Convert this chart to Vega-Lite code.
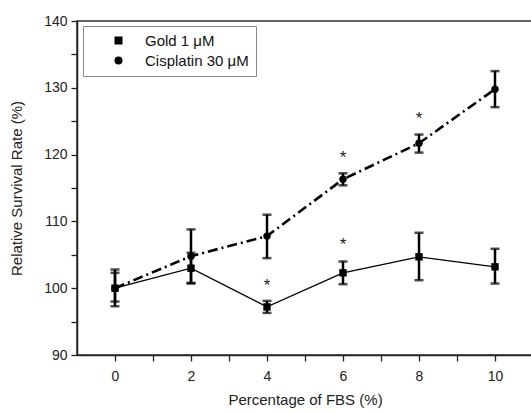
{
  "$schema": "https://vega.github.io/schema/vega-lite/v6.json",
  "width": 456,
  "height": 334,
  "autosize": "none",
  "padding": {"left": 77, "top": 21, "right": 0, "bottom": 57},
  "background": "white",
  "config": {
    "font": "Liberation Sans",
    "view": {"stroke": "#333", "strokeWidth": 1.5},
    "axis": {
      "grid": false,
      "domainColor": "#222",
      "domainWidth": 1.5,
      "tickColor": "#222",
      "tickWidth": 1.3,
      "labelColor": "#222",
      "titleColor": "#222",
      "labelFont": "Liberation Sans",
      "titleFont": "Liberation Sans",
      "labelFontSize": 14,
      "titleFontSize": 15,
      "titleFontWeight": "normal"
    }
  },
  "datasets": {
    "main": [
      {"series": "Gold 1 μM", "fbs": 0, "mean": 100.0, "lo": 97.3, "hi": 102.8},
      {"series": "Gold 1 μM", "fbs": 2, "mean": 103.0, "lo": 100.7, "hi": 105.3},
      {"series": "Gold 1 μM", "fbs": 4, "mean": 97.2, "lo": 96.3, "hi": 98.1},
      {"series": "Gold 1 μM", "fbs": 6, "mean": 102.3, "lo": 100.6, "hi": 104.0},
      {"series": "Gold 1 μM", "fbs": 8, "mean": 104.7, "lo": 101.2, "hi": 108.3},
      {"series": "Gold 1 μM", "fbs": 10, "mean": 103.2, "lo": 100.7, "hi": 105.9},
      {"series": "Cisplatin 30 μM", "fbs": 0, "mean": 100.0, "lo": 98.0, "hi": 102.3},
      {"series": "Cisplatin 30 μM", "fbs": 2, "mean": 104.8, "lo": 100.8, "hi": 108.8},
      {"series": "Cisplatin 30 μM", "fbs": 4, "mean": 107.8, "lo": 104.5, "hi": 111.0},
      {"series": "Cisplatin 30 μM", "fbs": 6, "mean": 116.3, "lo": 115.4, "hi": 117.2},
      {"series": "Cisplatin 30 μM", "fbs": 8, "mean": 121.7, "lo": 120.3, "hi": 123.0},
      {"series": "Cisplatin 30 μM", "fbs": 10, "mean": 129.8, "lo": 127.1, "hi": 132.5}
    ],
    "stars": [
      {"fbs": 4, "y": 101.0},
      {"fbs": 6, "y": 107.0},
      {"fbs": 6, "y": 120.1},
      {"fbs": 8, "y": 126.0}
    ]
  },
  "data": {"name": "main"},
  "encoding": {
    "x": {
      "field": "fbs", "type": "quantitative",
      "scale": {"domain": [-1, 11], "nice": false, "zero": false},
      "axis": {
        "title": "Percentage of FBS (%)",
        "values": [0, 1, 2, 3, 4, 5, 6, 7, 8, 9, 10],
        "labelExpr": "datum.value % 2 === 0 ? datum.label : ''",
        "tickSize": 6,
        "labelPadding": 8,
        "titlePadding": 9
      }
    },
    "y": {
      "field": "mean", "type": "quantitative",
      "scale": {"domain": [90, 140], "nice": false, "zero": false},
      "title": "Relative Survival Rate (%)",
      "axis": {
        "title": "Relative Survival Rate (%)",
        "values": [90, 95, 100, 105, 110, 115, 120, 125, 130, 135, 140],
        "labelExpr": "datum.value % 10 === 0 ? datum.label : ''",
        "tickSize": 6,
        "labelPadding": 4,
        "titlePadding": 19
      }
    }
  },
  "layer": [
    {
      "transform": [{"filter": "datum.series === 'Gold 1 μM'"}],
      "mark": {"type": "line", "color": "black", "strokeWidth": 1.3}
    },
    {
      "transform": [{"filter": "datum.series === 'Cisplatin 30 μM'"}],
      "mark": {"type": "line", "color": "black", "strokeWidth": 2.6, "strokeDash": [10, 4, 2, 4]}
    },
    {
      "mark": {"type": "errorbar", "ticks": {"size": 9, "color": "black", "thickness": 2.5}, "rule": {"color": "black", "strokeWidth": 2.5}},
      "encoding": {
        "y": {"field": "lo", "type": "quantitative", "title": "Relative Survival Rate (%)"},
        "y2": {"field": "hi"},
        "detail": {"field": "series"}
      }
    },
    {
      "mark": {"type": "point", "filled": true, "color": "black", "opacity": 1, "size": 55},
      "encoding": {
        "shape": {
          "field": "series", "type": "nominal",
          "scale": {"domain": ["Gold 1 μM", "Cisplatin 30 μM"], "range": ["square", "circle"]},
          "legend": {
            "title": null,
            "orient": "none",
            "legendX": 6,
            "legendY": 5,
            "padding": 7,
            "strokeColor": "#888",
            "fillColor": "white",
            "labelFont": "Liberation Sans",
            "labelFontSize": 15,
            "labelColor": "#111",
            "symbolSize": 64,
            "symbolOffset": 21,
            "labelOffset": 19,
            "rowPadding": 4
          }
        }
      }
    },
    {
      "data": {"name": "stars"},
      "mark": {"type": "text", "text": "*", "fontSize": 17, "color": "#222", "baseline": "middle", "dy": 4},
      "encoding": {
        "y": {"field": "y", "type": "quantitative", "title": "Relative Survival Rate (%)"}
      }
    }
  ]
}
